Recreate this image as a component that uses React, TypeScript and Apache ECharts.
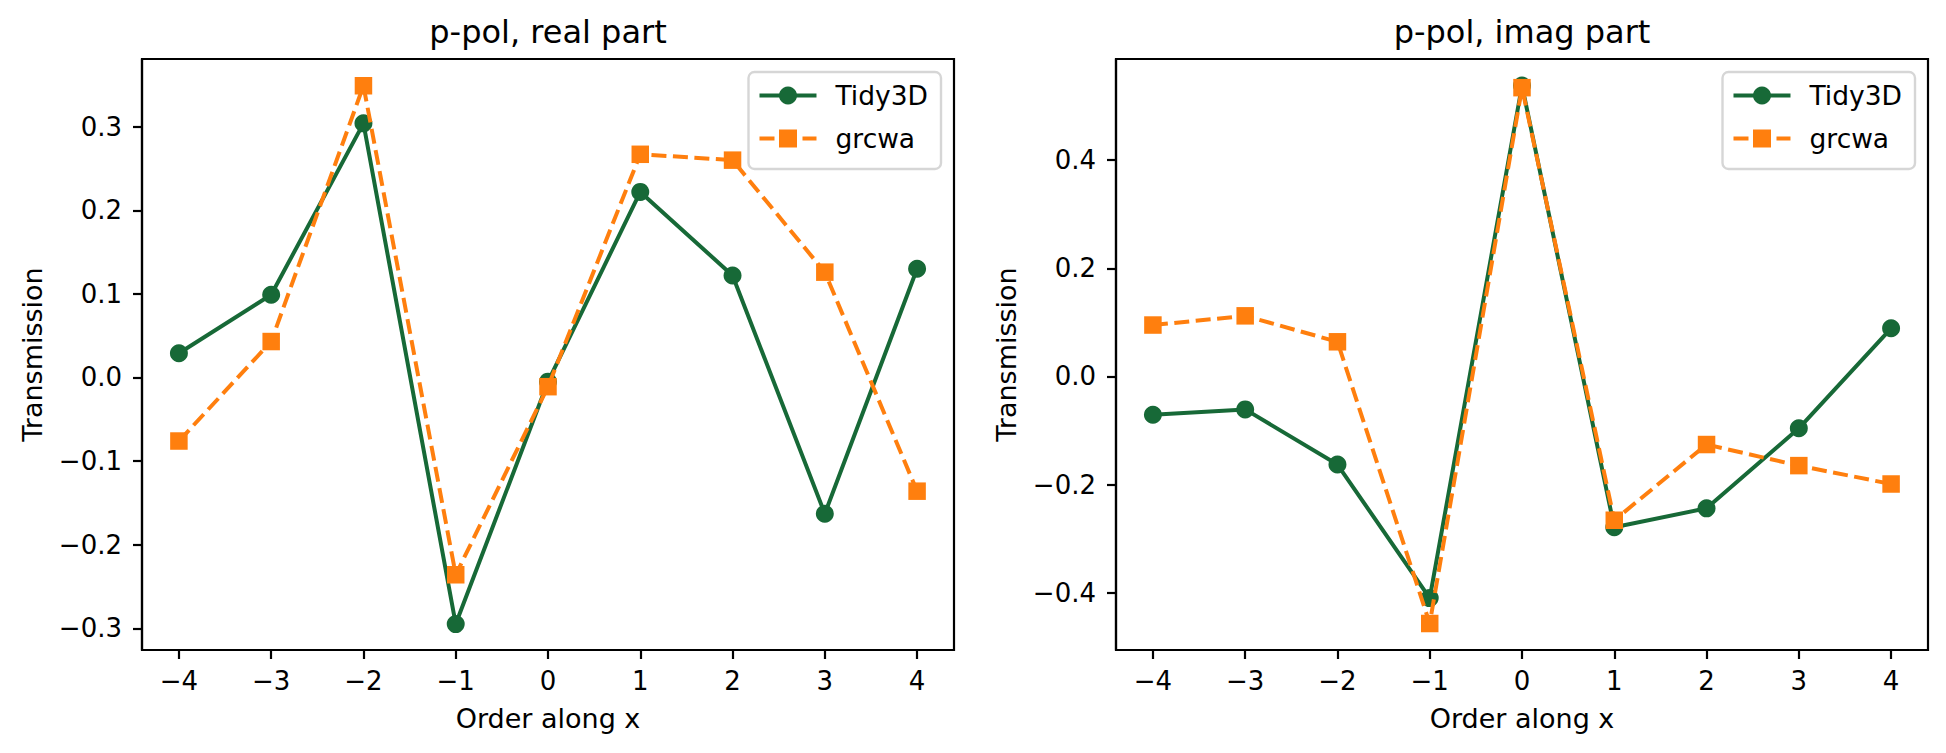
import React, { useEffect, useRef } from "react";
import * as echarts from "echarts";

// ---- data ----
const orders = [-4, -3, -2, -1, 0, 1, 2, 3, 4];
const realTidy3D = [0.029, 0.099, 0.304, -0.295, -0.005, 0.222, 0.122, -0.163, 0.13];
const realGrcwa = [-0.076, 0.043, 0.349, -0.236, -0.011, 0.267, 0.26, 0.126, -0.136];
const imagTidy3D = [-0.071, -0.061, -0.163, -0.41, 0.538, -0.279, -0.244, -0.096, 0.089];
const imagGrcwa = [0.095, 0.112, 0.064, -0.457, 0.534, -0.266, -0.126, -0.165, -0.199];
const xTicks = [-4, -3, -2, -1, 0, 1, 2, 3, 4];
const realTicks = [-0.3, -0.2, -0.1, 0, 0.1, 0.2, 0.3];
const imagTicks = [-0.4, -0.2, 0, 0.2, 0.4];
const titles = ["p-pol, real part", "p-pol, imag part"];
const seriesNames = ["Tidy3D", "grcwa"];
const xLabel = "Order along x";
const yLabel = "Transmission";

const GREEN = "#176937";
const ORANGE = "#ff7f0e";
const FONT = "DejaVu Sans";

const minus = (s: string) => s.replace("-", "\u2212");

function xAxisOpt(gridIndex: number) {
  return {
    type: "value",
    gridIndex,
    min: -4.4,
    max: 4.4,
    splitLine: { show: false },
    axisLine: { show: true, onZero: false, lineStyle: { color: "#000", width: 2.2 } },
    axisTick: { show: true, customValues: xTicks, length: 9, lineStyle: { color: "#000", width: 2.2 } },
    axisLabel: {
      customValues: xTicks,
      fontSize: 26,
      color: "#000",
      fontFamily: FONT,
      margin: 18,
      formatter: (v: number) => minus(String(Math.round(v))),
    },
    name: xLabel,
    nameLocation: "middle",
    nameGap: 55,
    nameTextStyle: { fontSize: 27, color: "#000", fontFamily: FONT },
  };
}

function yAxisOpt(gridIndex: number, min: number, max: number, ticks: number[]) {
  return {
    type: "value",
    gridIndex,
    min,
    max,
    splitLine: { show: false },
    axisLine: { show: true, onZero: false, lineStyle: { color: "#000", width: 2.2 } },
    axisTick: { show: true, customValues: ticks, length: 9, lineStyle: { color: "#000", width: 2.2 } },
    axisLabel: {
      customValues: ticks,
      fontSize: 26,
      color: "#000",
      fontFamily: FONT,
      margin: 20,
      formatter: (v: number) => minus(v.toFixed(1)),
    },
    name: yLabel,
    nameLocation: "middle",
    nameGap: 96,
    nameTextStyle: { fontSize: 27, color: "#000", fontFamily: FONT },
  };
}

function pairs(ys: number[]) {
  return orders.map((x, i) => [x, ys[i]]);
}

function lineSeries(name: string, idx: number, ys: number[], dashed: boolean) {
  const color = dashed ? ORANGE : GREEN;
  return {
    type: "line",
    name,
    xAxisIndex: idx,
    yAxisIndex: idx,
    data: pairs(ys),
    symbol: dashed ? "rect" : "circle",
    symbolSize: dashed ? 17.5 : 18,
    showSymbol: true,
    lineStyle: { color, width: 4, type: dashed ? [15, 6.5] : "solid" },
    itemStyle: { color, borderWidth: 0 },
    emphasis: { disabled: true },
    z: dashed ? 3 : 2,
  };
}

function legendOpt(right: number) {
  return {
    data: seriesNames,
    orient: "vertical",
    right,
    top: 72,
    itemWidth: 57,
    itemHeight: 22.5,
    itemGap: 16,
    padding: [10, 13, 17, 9],
    borderColor: "#d6d6d6",
    borderWidth: 2.4,
    borderRadius: 6,
    backgroundColor: "rgba(255,255,255,0.8)",
    selectedMode: false,
    lineStyle: { width: "inherit" },
    textStyle: {
      fontSize: 26.5,
      lineHeight: 24,
      color: "#000",
      fontFamily: FONT,
      padding: [0, 0, 0, 14],
    },
  };
}

export default function App() {
  const ref = useRef<HTMLDivElement>(null);
  useEffect(() => {
    if (!ref.current) return;
    const chart = echarts.init(ref.current, undefined, { renderer: "svg" });
    const grids = [
      { left: 142, top: 59, width: 812, height: 591 },
      { left: 1116, top: 59, width: 812, height: 591 },
    ];
    chart.setOption({
      animation: false,
      backgroundColor: "#fff",
      textStyle: { fontFamily: FONT },
      grid: grids.map((g) => ({
        ...g,
        show: true,
        borderColor: "#000",
        borderWidth: 2.2,
        backgroundColor: "transparent",
        containLabel: false,
      })),
      xAxis: [xAxisOpt(0), xAxisOpt(1)],
      yAxis: [yAxisOpt(0, -0.326, 0.381, realTicks), yAxisOpt(1, -0.506, 0.587, imagTicks)],
      legend: [legendOpt(1005), legendOpt(31)],
      graphic: grids.map((g, i) => ({
        type: "text",
        x: g.left + g.width / 2,
        y: 32,
        style: {
          text: titles[i],
          font: `32px "${FONT}"`,
          fill: "#000",
          align: "center",
          verticalAlign: "middle",
        },
      })),
      series: [
        lineSeries(seriesNames[0], 0, realTidy3D, false),
        lineSeries(seriesNames[1], 0, realGrcwa, true),
        lineSeries(seriesNames[0], 1, imagTidy3D, false),
        lineSeries(seriesNames[1], 1, imagGrcwa, true),
      ],
    });
    return () => chart.dispose();
  }, []);
  return (
    <div
      ref={ref}
      style={{ position: "absolute", left: 0, top: 0, width: 1946, height: 753, background: "#fff" }}
    />
  );
}
